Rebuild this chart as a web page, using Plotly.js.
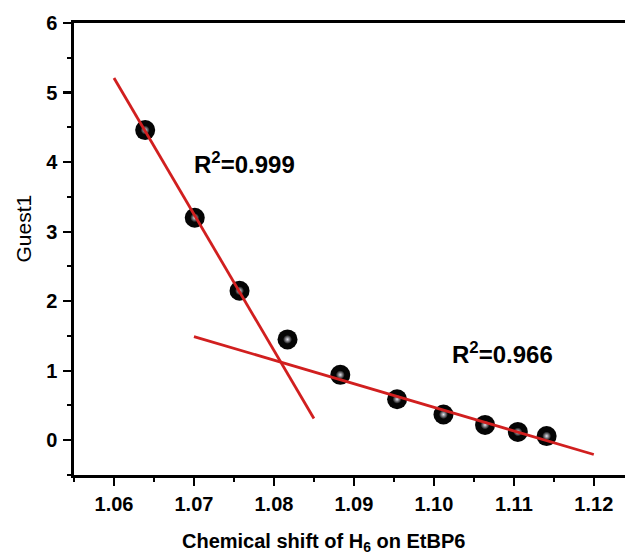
<!DOCTYPE html>
<html>
<head>
<meta charset="utf-8">
<script src="https://cdn.plot.ly/plotly-3.0.1.min.js"></script>
<style>
  html, body { margin: 0; padding: 0; background: #fff; overflow: hidden; }
  #chart { width: 625px; height: 557px; }
</style>
</head>
<body>
<div id="chart"></div>
<script>
// Titration data: chemical shift of H6 on EtBP6 vs. Guest1
const shift = [1.0639, 1.0701, 1.0757, 1.0817, 1.0883, 1.0954, 1.1012, 1.1064, 1.1105, 1.1141];
const guest = [4.46, 3.20, 2.15, 1.45, 0.94, 0.59, 0.37, 0.22, 0.12, 0.06];

// Points used in each linear fit (indices into the arrays above)
const fit1Idx = [0, 1, 2];
const fit2Idx = [4, 5, 6, 7, 8, 9];

// x-extent over which each fitted line is drawn
const fit1Span = [1.06, 1.085];
const fit2Span = [1.07, 1.12];

const fit1Label = 'R<sup>2</sup>=0.999';
const fit2Label = 'R<sup>2</sup>=0.966';

const xTitle = 'Chemical shift of H<sub>6</sub> on EtBP6';
const yTitle = 'Guest1';

const xTickVals = [1.06, 1.07, 1.08, 1.09, 1.10, 1.11, 1.12];
const xTickText = ['1.06', '1.07', '1.08', '1.09', '1.10', '1.11', '1.12'];
const yTickVals = [0, 1, 2, 3, 4, 5, 6];

// ordinary least squares on a subset of points
function linfit(idx) {
  const xs = idx.map(i => shift[i]);
  const ys = idx.map(i => guest[i]);
  const n = xs.length;
  const mx = xs.reduce((a, b) => a + b, 0) / n;
  const my = ys.reduce((a, b) => a + b, 0) / n;
  let sxy = 0, sxx = 0;
  for (let k = 0; k < n; k++) {
    sxy += (xs[k] - mx) * (ys[k] - my);
    sxx += (xs[k] - mx) * (xs[k] - mx);
  }
  const slope = sxy / sxx;
  return x => my + slope * (x - mx);
}

const f1 = linfit(fit1Idx);
const f2 = linfit(fit2Idx);

const red = '#d11f1f';
const ink = '#000000';
const font = 'Liberation Sans, Arial, Helvetica, sans-serif';

const traces = [
  // sphere bodies
  {
    x: shift, y: guest, type: 'scatter', mode: 'markers',
    marker: { size: 20, color: '#050505', line: { width: 0 } },
    hoverinfo: 'skip', showlegend: false
  },
  // specular highlight on each sphere
  {
    x: shift, y: guest, type: 'scatter', mode: 'markers',
    marker: { size: 9, color: 'rgba(5,5,5,1)', line: { width: 0 },
              gradient: { type: 'radial', color: '#e4e4ee' } },
    hoverinfo: 'skip', showlegend: false
  },
  // steep fit
  {
    x: fit1Span, y: fit1Span.map(f1), type: 'scatter', mode: 'lines',
    line: { color: red, width: 2.8 }, showlegend: false
  },
  // shallow fit
  {
    x: fit2Span, y: fit2Span.map(f2), type: 'scatter', mode: 'lines',
    line: { color: red, width: 2.8 }, showlegend: false
  }
];

const layout = {
  width: 625, height: 557,
  margin: { l: 74, r: 0, t: 23, b: 82, pad: 0 },
  paper_bgcolor: '#fff', plot_bgcolor: '#fff',
  font: { family: font, color: ink },
  showlegend: false,
  xaxis: {
    range: [1.055, 1.1239],
    tickvals: xTickVals, ticktext: xTickText,
    ticks: 'outside', ticklen: 8, tickwidth: 2.2, tickcolor: ink,
    ticklabelstandoff: 1,
    tickfont: { family: font, size: 20, color: ink, weight: 'bold' },
    showline: true, linecolor: ink, linewidth: 2.6, mirror: true,
    showgrid: false, zeroline: false,
    minor: { dtick: 0.005, tick0: 1.055, ticks: 'outside', ticklen: 4, tickwidth: 2, tickcolor: ink, showgrid: false }
  },
  yaxis: {
    range: [-0.5, 6],
    tickvals: yTickVals,
    ticks: 'outside', ticklen: 8, tickwidth: 2.2, tickcolor: ink,
    ticklabelstandoff: 2,
    tickfont: { family: font, size: 20, color: ink, weight: 'bold' },
    showline: true, linecolor: ink, linewidth: 2.6,
    showgrid: false, zeroline: false,
    minor: { dtick: 0.5, tick0: -0.5, ticks: 'outside', ticklen: 4, tickwidth: 2, tickcolor: ink, showgrid: false }
  },
  annotations: [
    {
      text: yTitle, textangle: -90, showarrow: false,
      xref: 'paper', yref: 'paper', x: -0.092, y: 0.546,
      xanchor: 'center', yanchor: 'middle',
      font: { family: font, size: 21, color: ink }
    },
    {
      text: xTitle, showarrow: false,
      xref: 'paper', yref: 'paper', x: 0.4537, y: -0.118,
      xanchor: 'center', yanchor: 'top',
      font: { family: font, size: 20, color: ink, weight: 'bold' }
    },
    {
      text: fit1Label, showarrow: false,
      xref: 'x', yref: 'y', x: 1.0697, y: 3.98,
      xanchor: 'left', yanchor: 'middle',
      font: { family: font, size: 24, color: ink, weight: 'bold' }
    },
    {
      text: fit2Label, showarrow: false,
      xref: 'x', yref: 'y', x: 1.1020, y: 1.26,
      xanchor: 'left', yanchor: 'middle',
      font: { family: font, size: 24, color: ink, weight: 'bold' }
    }
  ]
};

Plotly.newPlot('chart', traces, layout, { staticPlot: true, displayModeBar: false });
</script>
</body>
</html>
